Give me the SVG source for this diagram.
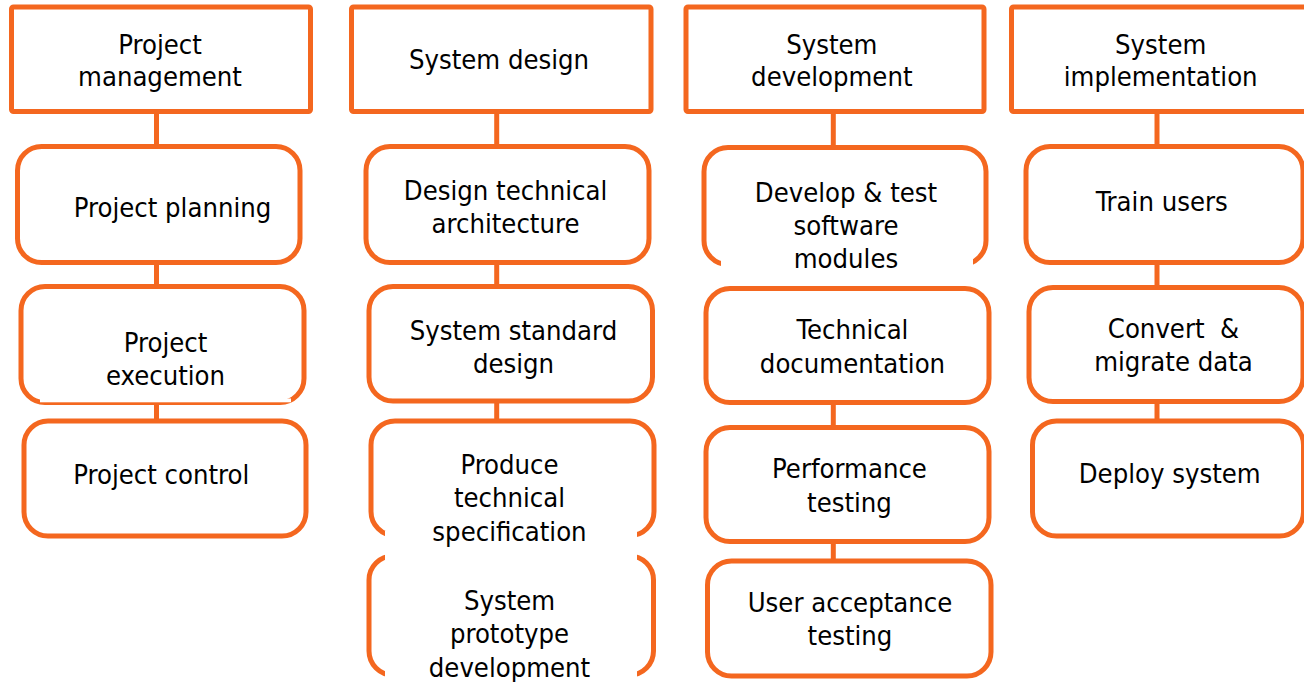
<svg xmlns="http://www.w3.org/2000/svg" width="1304" height="682" viewBox="0 0 1304 682">
<style>
.hdr{fill:#fff;stroke:#F4671F;stroke-width:5}
.box{fill:#fff;stroke:#F4671F;stroke-width:5}
.con{stroke:#F4671F;stroke-width:5;fill:none}
.mask{fill:#fff;stroke:none}
text{font-family:"DejaVu Sans Condensed","DejaVu Sans","Liberation Sans",sans-serif;font-stretch:condensed;font-size:27.2px;fill:#000;text-anchor:middle;white-space:pre}
</style>
<rect width="1304" height="682" fill="#fff"/>
<g id="connectors">
<line class="con" x1="156.5" y1="110" x2="156.5" y2="148"/>
<line class="con" x1="156.5" y1="260" x2="156.5" y2="289"/>
<line class="con" x1="156.5" y1="400" x2="156.5" y2="423"/>
<line class="con" x1="496.7" y1="110" x2="496.7" y2="148"/>
<line class="con" x1="496.7" y1="260" x2="496.7" y2="289"/>
<line class="con" x1="496.7" y1="399" x2="496.7" y2="423"/>
<line class="con" x1="833.3" y1="110" x2="833.3" y2="149"/>
<line class="con" x1="833.3" y1="400" x2="833.3" y2="430"/>
<line class="con" x1="833.3" y1="539" x2="833.3" y2="563"/>
<line class="con" x1="1157" y1="110" x2="1157" y2="148"/>
<line class="con" x1="1157" y1="260" x2="1157" y2="290"/>
<line class="con" x1="1157" y1="399" x2="1157" y2="423"/>
</g>
<g id="project-management">
<rect class="hdr" x="11.5" y="7" width="299" height="104.5" rx="2"/>
<text x="160" y="54">Project</text>
<text x="160" y="86">management</text>
</g>
<g id="project-planning">
<rect class="box" x="17.5" y="146.5" width="282.5" height="116" rx="24"/>
<text x="172.5" y="217">Project planning</text>
</g>
<g id="project-execution">
<rect class="box" x="21" y="286.5" width="283" height="116" rx="24"/>
<rect class="mask" x="40" y="398.5" width="251" height="3.8"/>
<text x="165.5" y="352">Project</text>
<text x="165.5" y="385">execution</text>
</g>
<g id="project-control">
<rect class="box" x="24" y="421" width="282" height="115" rx="24"/>
<text x="161.3" y="484">Project control</text>
</g>
<g id="system-design">
<rect class="hdr" x="351.5" y="7" width="299.5" height="104.5" rx="2"/>
<text x="499" y="68.5">System design</text>
</g>
<g id="design-technical-architecture">
<rect class="box" x="366" y="146.5" width="283" height="116" rx="24"/>
<text x="505.5" y="200">Design technical</text>
<text x="505.5" y="233.3">architecture</text>
</g>
<g id="system-standard-design">
<rect class="box" x="369" y="286.5" width="283.5" height="114.5" rx="24"/>
<text x="513.5" y="340">System standard</text>
<text x="513.5" y="372.7">design</text>
</g>
<g id="produce-technical-specification">
<rect class="box" x="371" y="421" width="283" height="114.5" rx="24"/>
</g>
<g id="system-prototype-development">
<rect class="box" x="369" y="556" width="284.5" height="119" rx="24"/>
<rect class="mask" x="385" y="531" width="252" height="30"/>
<rect class="mask" x="385" y="666" width="252" height="16"/>
<text x="509.5" y="474">Produce</text>
<text x="509.5" y="507.3">technical</text>
<text x="509.5" y="540.7">specification</text>
<text x="509.5" y="610">System</text>
<text x="509.5" y="643.3">prototype</text>
<text x="509.5" y="676.7">development</text>
</g>
<g id="system-development">
<rect class="hdr" x="686" y="7" width="298" height="104.5" rx="2"/>
<text x="831.8" y="54">System</text>
<text x="831.8" y="86">development</text>
</g>
<g id="develop-test-software-modules">
<rect class="box" x="704" y="147.5" width="282" height="117" rx="24"/>
<rect class="mask" x="721" y="254" width="252" height="22"/>
<text x="846" y="201.7">Develop &amp; test</text>
<text x="846" y="235">software</text>
<text x="846" y="268.3">modules</text>
</g>
<g id="technical-documentation">
<rect class="box" x="706" y="288.5" width="283" height="114" rx="24"/>
<text x="852.5" y="339.3">Technical</text>
<text x="852.5" y="372.7">documentation</text>
</g>
<g id="performance-testing">
<rect class="box" x="706" y="427.5" width="283" height="114" rx="24"/>
<text x="849.5" y="478.3">Performance</text>
<text x="849.5" y="511.5">testing</text>
</g>
<g id="user-acceptance-testing">
<rect class="box" x="707.5" y="561" width="283.5" height="115" rx="24"/>
<text x="850" y="611.7">User acceptance</text>
<text x="850" y="645">testing</text>
</g>
<g id="system-implementation">
<rect class="hdr" x="1011.5" y="7" width="310" height="104.5" rx="2"/>
<text x="1160.7" y="54">System</text>
<text x="1160.7" y="86">implementation</text>
</g>
<g id="train-users">
<rect class="box" x="1026" y="146.5" width="277" height="116" rx="24"/>
<text x="1161.7" y="210.7">Train users</text>
</g>
<g id="convert-migrate-data">
<rect class="box" x="1029" y="287.5" width="274" height="114" rx="24"/>
<text x="1173.5" y="338.3">Convert  &amp;</text>
<text x="1173.5" y="370.7">migrate data</text>
</g>
<g id="deploy-system">
<rect class="box" x="1032.5" y="421" width="271" height="115" rx="24"/>
<text x="1169.7" y="483.3">Deploy system</text>
</g>
</svg>
